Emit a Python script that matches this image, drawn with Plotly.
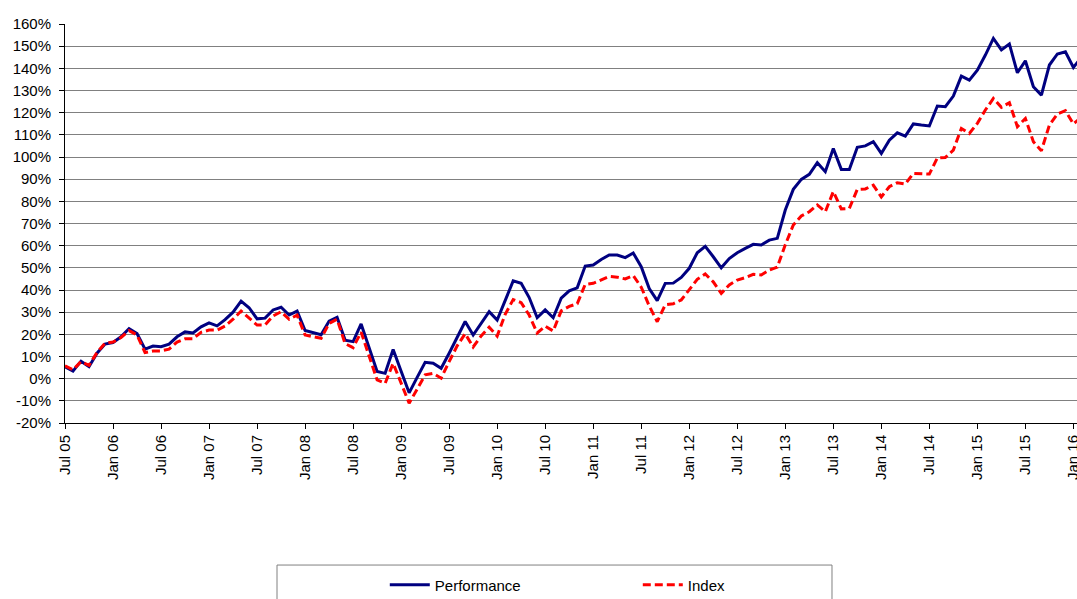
import plotly.graph_objects as go

# Monthly cumulative returns (%), Jul 05 .. Feb 16
performance = [
    5.4, 3.4, 7.9, 5.4, 11.5, 15.6, 16.3, 18.9, 22.6, 20.3,
    13.3, 14.7, 14.4, 15.6, 18.9, 21.1, 20.6, 23.4, 25.2, 23.8,
    26.6, 30.0, 35.0, 32.0, 27.0, 27.3, 31.0, 32.2, 28.7, 30.5,
    21.7, 20.9, 19.8, 25.9, 27.7, 17.4, 16.7, 24.7, 14.0, 3.2,
    2.4, 13.2, 3.3, -6.4, 0.6, 7.4, 7.0, 4.7, 11.5, 19.0,
    25.8, 19.7, 25.2, 30.2, 26.4, 35.5, 44.1, 43.0, 36.6, 27.5,
    31.0, 27.5, 36.3, 39.6, 41.0, 50.8, 51.3, 53.8, 55.8, 55.8,
    54.6, 56.7, 50.5, 40.7, 35.2, 43.0, 43.1, 45.7, 49.8, 56.8,
    59.7, 55.0, 50.0, 54.2, 56.8, 58.8, 60.6, 60.3, 62.5, 63.3,
    76.1, 85.4, 89.9, 92.2, 97.4, 93.4, 103.8, 94.4, 94.4, 104.4,
    105.0, 106.9, 101.6, 107.6, 110.9, 109.4, 114.9, 114.4, 114.0, 123.0,
    122.7, 127.5, 136.5, 134.7, 139.2, 146.0, 153.5, 148.3, 151.0, 138.0,
    143.4, 131.7, 127.9, 141.5, 146.5, 147.5, 140.4, 145.0,
]

index_vals = [
    5.8, 4.0, 7.7, 6.0, 11.8, 16.0, 16.5, 18.6, 21.7, 19.7,
    11.8, 12.5, 12.5, 13.3, 16.5, 18.0, 18.0, 20.9, 21.9, 21.9,
    23.7, 26.8, 30.5, 27.5, 24.2, 24.2, 28.3, 30.2, 26.8, 28.7,
    19.7, 18.9, 18.2, 24.9, 26.8, 15.8, 14.0, 21.0, 10.0, -0.6,
    -2.1, 6.9, -2.0, -11.1, -4.7, 1.7, 2.4, 0.2, 7.7, 14.8,
    20.3, 14.3, 19.3, 23.2, 19.2, 29.0, 35.7, 34.3, 28.7, 20.6,
    23.7, 21.5, 30.6, 32.6, 33.8, 42.5, 43.0, 44.6, 46.1, 45.8,
    45.0, 46.5, 41.3, 32.8, 25.7, 33.3, 33.8, 35.5, 40.0, 44.8,
    47.2, 43.7, 38.5, 42.3, 44.5, 45.6, 47.1, 46.8, 49.0, 50.3,
    60.4, 69.3, 73.4, 75.3, 78.4, 75.3, 84.4, 76.6, 76.8, 85.4,
    85.6, 87.3, 82.0, 86.6, 88.4, 87.8, 92.6, 92.6, 92.3, 99.6,
    99.8, 103.1, 112.9, 110.6, 115.2, 121.2, 126.4, 122.4, 124.5, 113.7,
    117.4, 106.9, 102.8, 114.4, 119.4, 120.9, 114.9, 118.0,
]

tick_labels = [
    "Jul 05", "Jan 06", "Jul 06", "Jan 07", "Jul 07", "Jan 08", "Jul 08",
    "Jan 09", "Jul 09", "Jan 10", "Jul 10", "Jan 11", "Jul 11", "Jan 12",
    "Jul 12", "Jan 13", "Jul 13", "Jan 14", "Jul 14", "Jan 15", "Jul 15",
    "Jan 16",
]
tick_months = [6 * k for k in range(len(tick_labels))]

y_ticks = list(range(-20, 161, 10))
y_labels = [f"{v}%" for v in y_ticks]

months = list(range(len(performance)))

FONT = "Liberation Sans, Arial, sans-serif"

fig = go.Figure()
fig.add_trace(go.Scatter(
    x=months, y=performance, mode="lines", name="Performance",
    line=dict(color="#000080", width=3),
))
fig.add_trace(go.Scatter(
    x=months, y=index_vals, mode="lines", name="Index",
    line=dict(color="#FF0000", width=3, dash="8px,4px"),
))

fig.update_layout(
    width=1077, height=599,
    margin=dict(l=65, r=0, t=24, b=176, autoexpand=False),
    paper_bgcolor="white", plot_bgcolor="white",
    font=dict(family=FONT, size=15, color="black"),
    showlegend=True,
    legend=dict(
        orientation="h", x=0.316, xanchor="left", y=-0.406, yanchor="middle",
        entrywidth=198, entrywidthmode="pixels", itemwidth=40,
        font=dict(family=FONT, size=15, color="black"),
        bgcolor="rgba(0,0,0,0)", borderwidth=0,
    ),
    xaxis=dict(
        range=[0, 126.45], tickmode="array", tickvals=tick_months,
        ticktext=tick_labels, tickangle=-90, ticks="outside", ticklen=5,
        tickcolor="black", showline=True, linecolor="black", linewidth=1,
        showgrid=False, zeroline=False, ticklabeloverflow="allow",
        tickfont=dict(family=FONT, size=15, color="black"),
    ),
    yaxis=dict(
        range=[-20, 160], tickmode="array", tickvals=y_ticks, ticktext=y_labels,
        ticks="outside", ticklen=5, tickcolor="black", showline=True,
        linecolor="black", linewidth=1, showgrid=True, gridcolor="#808080",
        gridwidth=1, zeroline=False, ticklabelstandoff=5,
        tickfont=dict(family=FONT, size=15, color="black"),
    ),
    shapes=[dict(
        type="rect", xref="paper", yref="paper",
        x0=0.2095, x1=0.7579, y0=-0.356, y1=-0.48,
        line=dict(color="#808080", width=1), fillcolor="rgba(0,0,0,0)",
    )],
)

fig.write_html(
    "out.html",
    config={"displayModeBar": False},
    post_script="document.body.style.margin='0';document.body.style.overflow='hidden';",
)
